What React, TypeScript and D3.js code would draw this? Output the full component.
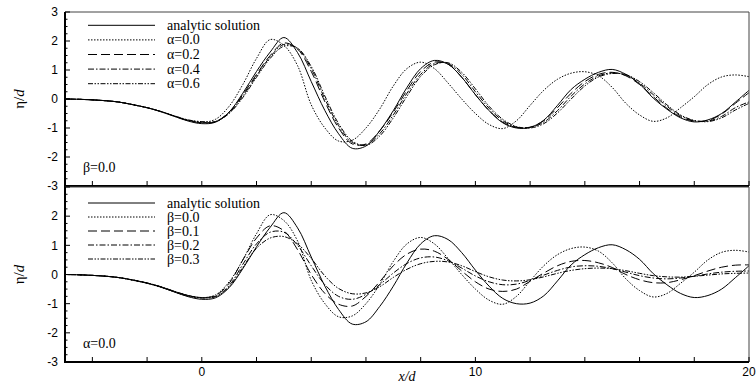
import React from "react";
import * as d3 from "d3";

// x/d sample positions shared by every curve
const xGrid = [
  -5, -4.5, -4, -3.5, -3, -2.5, -2, -1.5, -1, -0.5,
  0, 0.5, 1, 1.5, 2, 2.5, 3, 3.5, 4, 4.5,
  5, 5.5, 6, 6.5, 7, 7.5, 8, 8.5, 9, 9.5,
  10, 10.5, 11, 11.5, 12, 12.5, 13, 13.5, 14, 14.5,
  15, 15.5, 16, 16.5, 17, 17.5, 18, 18.5, 19, 19.5,
  20,
];

const analytic = [
  0, -0.01, -0.03, -0.06, -0.11, -0.2, -0.3, -0.43, -0.6, -0.76,
  -0.85, -0.8, -0.45, 0.2, 0.95, 1.62, 2.12, 1.6, 0.6, -0.4,
  -1.2, -1.7, -1.62, -1.1, -0.4, 0.4, 1.05, 1.33, 1.2, 0.75,
  0.15, -0.4, -0.82, -1.0, -0.98, -0.73, -0.22, 0.33, 0.68, 0.92,
  1.02, 0.85, 0.52, 0.03, -0.35, -0.65, -0.79, -0.72, -0.5, -0.11,
  0.3,
];

// alpha = 0.0, beta = 0.0 (same run appears in both panels)
const alpha00 = [
  0, -0.01, -0.03, -0.06, -0.11, -0.2, -0.3, -0.44, -0.6, -0.74,
  -0.8, -0.7, -0.25, 0.5, 1.4, 2.05, 1.85, 1.15, -0.2, -1.0,
  -1.45, -1.42, -1.0, -0.35, 0.45, 1.05, 1.27, 1.05, 0.55, 0.0,
  -0.5, -0.88, -1.02, -0.75, -0.22, 0.3, 0.68, 0.89, 0.94, 0.8,
  0.4, -0.15, -0.55, -0.77, -0.65, -0.3, 0.08, 0.5, 0.76, 0.83,
  0.77,
];

const alpha02 = [
  0, -0.01, -0.03, -0.06, -0.11, -0.2, -0.3, -0.43, -0.59, -0.74,
  -0.82, -0.78, -0.45, 0.15, 0.85, 1.5, 1.93, 1.72, 0.95, -0.1,
  -1.0, -1.55, -1.55, -1.1, -0.45, 0.3, 0.95, 1.27, 1.2, 0.75,
  0.15, -0.4, -0.8, -0.98, -0.97, -0.75, -0.3, 0.2, 0.6, 0.85,
  0.92, 0.8, 0.5, 0.08, -0.32, -0.62, -0.76, -0.74, -0.52, -0.15,
  0.22,
];

const alpha04 = [
  0, -0.01, -0.03, -0.06, -0.11, -0.2, -0.3, -0.43, -0.59, -0.73,
  -0.8, -0.78, -0.48, 0.1, 0.8, 1.45, 1.88, 1.75, 1.05, 0.0,
  -0.92, -1.5, -1.58, -1.2, -0.55, 0.2, 0.85, 1.22, 1.22, 0.85,
  0.25, -0.32, -0.75, -0.97, -0.98, -0.8, -0.4, 0.1, 0.52, 0.8,
  0.9, 0.82, 0.55, 0.15, -0.25, -0.58, -0.75, -0.76, -0.6, -0.3,
  -0.1,
];

const alpha06 = [
  0, -0.01, -0.03, -0.06, -0.11, -0.2, -0.3, -0.43, -0.58, -0.72,
  -0.78, -0.78, -0.5, 0.05, 0.75, 1.4, 1.82, 1.75, 1.12, 0.1,
  -0.85, -1.45, -1.6, -1.28, -0.65, 0.1, 0.78, 1.18, 1.25, 0.92,
  0.35, -0.25, -0.7, -0.95, -1.0, -0.85, -0.48, 0.0, 0.45, 0.76,
  0.88, 0.84, 0.6, 0.22, -0.2, -0.55, -0.74, -0.78, -0.65, -0.38,
  -0.15,
];

const beta01 = [
  0, -0.01, -0.03, -0.06, -0.11, -0.19, -0.29, -0.42, -0.58, -0.72,
  -0.79, -0.72, -0.3, 0.5, 1.25, 1.67, 1.5, 0.85, 0.0, -0.65,
  -1.02, -1.08, -0.75, -0.25, 0.3, 0.7, 0.87, 0.8, 0.52, 0.12,
  -0.25, -0.5, -0.58, -0.5, -0.23, 0.05, 0.3, 0.45, 0.48, 0.4,
  0.24, 0.0, -0.18, -0.28, -0.28, -0.18, -0.04, 0.12, 0.25, 0.32,
  0.33,
];

const beta02 = [
  0, -0.01, -0.03, -0.06, -0.11, -0.19, -0.29, -0.42, -0.58, -0.72,
  -0.8, -0.75, -0.38, 0.35, 1.05, 1.45, 1.45, 1.0, 0.3, -0.35,
  -0.75, -0.85, -0.68, -0.35, 0.05, 0.38, 0.57, 0.6, 0.47, 0.22,
  -0.05, -0.25, -0.35, -0.33, -0.2, -0.02, 0.14, 0.26, 0.3, 0.28,
  0.2, 0.08, -0.04, -0.12, -0.15, -0.12, -0.06, 0.02, 0.08, 0.11,
  0.12,
];

const beta03 = [
  0, -0.01, -0.03, -0.06, -0.11, -0.19, -0.29, -0.42, -0.58, -0.72,
  -0.8, -0.76, -0.42, 0.25, 0.9, 1.25, 1.3, 1.05, 0.55, -0.05,
  -0.48, -0.66, -0.63, -0.42, -0.1, 0.18, 0.37, 0.45, 0.43, 0.3,
  0.1, -0.08, -0.19, -0.22, -0.18, -0.08, 0.04, 0.14, 0.2, 0.22,
  0.2, 0.13, 0.04, -0.04, -0.08, -0.09, -0.06, -0.02, 0.02, 0.04,
  0.05,
];

const topLabels = ["analytic solution", "α=0.0", "α=0.2", "α=0.4", "α=0.6"];
const bottomLabels = ["analytic solution", "β=0.0", "β=0.1", "β=0.2", "β=0.3"];
const xTickLabels = [0, 10, 20];
const yTickLabels = [-3, -2, -1, 0, 1, 2, 3];

// solid, dotted, dashed, dash-dot, dash-dot-dot
const dashes = ["none", "1.5,1.5", "9,4", "6,2,1.5,2", "5,1.5,1.5,1.5,1.5,1.5"];

const W = 756;
const H = 388;
const left = 65;
const right = 749;

const serif = "Liberation Serif, Times New Roman, serif";
const sans = "Liberation Sans, Arial, sans-serif";

const x = d3.scaleLinear().domain([-5, 20]).range([left, right]);

const panels = [
  {
    id: "top",
    top: 12,
    bottom: 186,
    series: [analytic, alpha00, alpha02, alpha04, alpha06],
    labels: topLabels,
    legendY: 25.3,
    legendStep: 14.6,
    note: "β=0.0",
  },
  {
    id: "bot",
    top: 187,
    bottom: 362,
    series: [analytic, alpha00, beta01, beta02, beta03],
    labels: bottomLabels,
    legendY: 203,
    legendStep: 14,
    note: "α=0.0",
  },
];

function Panel({ p, showX, skipTop }: { p: any; showX: boolean; skipTop: boolean }) {
  const y = d3.scaleLinear().domain([-3, 3]).range([p.bottom, p.top]);
  const line = d3
    .line<number>()
    .x((d, i) => x(xGrid[i]))
    .y((d) => y(d))
    .curve(d3.curveCatmullRom.alpha(0.5));
  const xTicks = d3.range(-4, 20.01, 2);
  const yMinor = d3.range(-3, 3.001, 0.25);
  const midY = (p.top + p.bottom) / 2;
  // top label of the lower panel sits under the "-3" of the upper one
  const yLabels = skipTop ? yTickLabels.filter((t) => t !== 3) : yTickLabels;

  return (
    <g>
      <defs>
        <clipPath id={`clip-${p.id}`}>
          <rect x={left} y={p.top} width={right - left} height={p.bottom - p.top} />
        </clipPath>
      </defs>

      <g clipPath={`url(#clip-${p.id})`}>
        {p.series.map((s: number[], i: number) => (
          <path
            key={i}
            d={line(s) || ""}
            fill="none"
            stroke="#000"
            strokeWidth={1}
            strokeDasharray={dashes[i]}
          />
        ))}
      </g>

      {/* frame */}
      <line x1={left} x2={right} y1={p.top} y2={p.top} stroke="#444" strokeWidth={1} />
      <line x1={right} x2={right} y1={p.top} y2={p.bottom} stroke="#444" strokeWidth={1} />
      <line x1={left} x2={left} y1={p.top} y2={p.bottom} stroke="#000" strokeWidth={2} />
      <line x1={left - 1} x2={right} y1={p.bottom} y2={p.bottom} stroke="#000" strokeWidth={2} />

      {/* x ticks */}
      {xTicks.map((t) => (
        <line key={t} x1={x(t)} x2={x(t)} y1={p.bottom} y2={p.bottom - 5} stroke="#000" strokeWidth={1} />
      ))}
      {showX &&
        xTickLabels.map((t) => (
          <text key={t} x={x(t)} y={p.bottom + 14} textAnchor="middle" fontFamily={sans} fontSize={12}>
            {t}
          </text>
        ))}

      {/* y ticks */}
      {yMinor.map((t) => {
        const major = Math.abs(t - Math.round(t)) < 1e-6;
        return (
          <line key={t} x1={left} x2={left + (major ? 5 : 2.5)} y1={y(t)} y2={y(t)} stroke="#000" strokeWidth={1} />
        );
      })}
      {yLabels.map((t) => (
        <text key={t} x={58} y={y(t)} dy="0.35em" textAnchor="end" fontFamily={sans} fontSize={12}>
          {t}
        </text>
      ))}

      {/* y label */}
      <text
        transform={`translate(24,${midY}) rotate(-90)`}
        textAnchor="middle"
        fontFamily={serif}
        fontSize={15}
      >
        η/<tspan fontStyle="italic">d</tspan>
      </text>

      {/* legend */}
      {p.labels.map((lab: string, i: number) => {
        const ly = p.legendY + i * p.legendStep;
        return (
          <g key={lab}>
            <line x1={88} x2={155} y1={ly} y2={ly} stroke="#000" strokeWidth={1} strokeDasharray={dashes[i]} />
            <text x={167} y={ly + 4.5} fontFamily={serif} fontSize={14}>
              {lab}
            </text>
          </g>
        );
      })}

      <text x={83} y={p.bottom - 14} fontFamily={serif} fontSize={14}>
        {p.note}
      </text>
    </g>
  );
}

export default function App() {
  return (
    <div style={{ position: "absolute", left: 0, top: 0 }}>
      <svg width={W} height={H} style={{ display: "block", background: "#fff" }}>
        {panels.map((p, i) => (
          <Panel key={p.id} p={p} showX={i === panels.length - 1} skipTop={i > 0} />
        ))}
        <text x={(left + right) / 2} y={381} textAnchor="middle" fontFamily={serif} fontSize={14} fontStyle="italic">
          x/d
        </text>
      </svg>
    </div>
  );
}
